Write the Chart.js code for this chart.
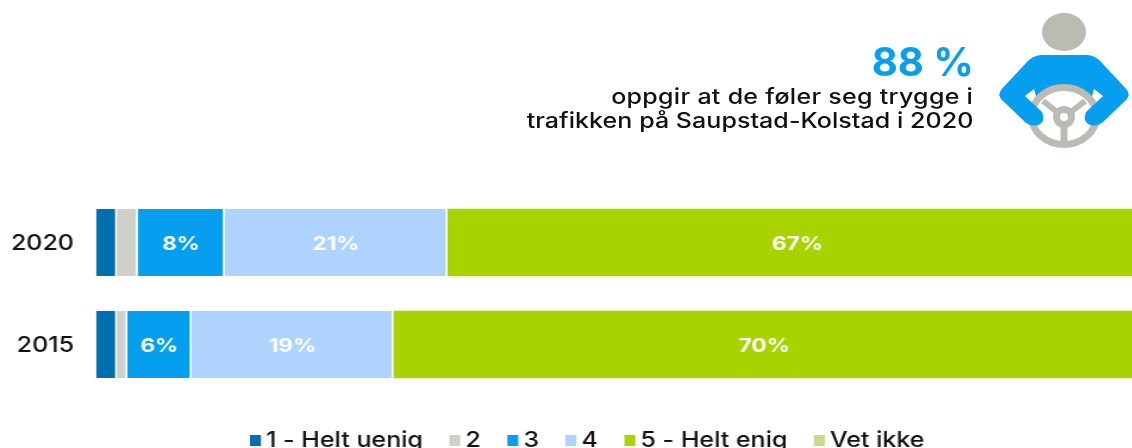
<!DOCTYPE html>
<html><head><meta charset="utf-8">
<style>
html,body{margin:0;padding:0;background:#fff;overflow:hidden}
#wrap{position:relative;width:1132px;height:448px;overflow:hidden}
#c{position:absolute;left:0;top:0;transform:scaleX(1.1903);transform-origin:0 0}
.t{position:absolute;right:159px;text-align:right;white-space:nowrap;font-family:Inter,sans-serif;color:#111;font-weight:500;font-size:21px;transform:scaleX(1.19);transform-origin:100% 0}
svg{position:absolute;left:0;top:0}
</style>
<script src="https://cdn.jsdelivr.net/npm/chart.js@4"></script>
</head><body><div id="wrap">
<canvas id="c" width="951" height="448"></canvas>
<div class="t" style="top:37px;right:158px;font-size:40px;font-weight:700;color:#069fef;transform:none">88 %</div>
<div class="t" style="top:84px;letter-spacing:.25px">oppgir at de føler seg trygge i</div>
<div class="t" style="top:108px;letter-spacing:.05px">trafikken på Saupstad-Kolstad i 2020</div>
<svg width="1132" height="448" viewBox="0 0 1132 448">
<ellipse cx="1064" cy="32" rx="22" ry="19" fill="#bbbbb3"/>
<path d="M1042 55H1087Q1095 55 1102 63L1126 89Q1131 95 1126 100L1103 96L1094 89L1091 100A32.5 28.5 0 0 0 1037 100L1034 89L1025 96L1002 100Q997 95 1002 89L1026 63Q1033 55 1042 55Z" fill="#069fef"/>
<g fill="none" stroke="#bbbbb3">
<ellipse cx="1064" cy="116" rx="32.5" ry="28.5" stroke-width="7"/>
<line x1="1064" y1="124" x2="1064" y2="145" stroke-width="7"/>
<line x1="1057" y1="112" x2="1043" y2="101" stroke-width="6"/>
<line x1="1071" y1="112" x2="1085" y2="101" stroke-width="6"/>
<circle cx="1064" cy="117" r="7.5" stroke-width="7"/>
</g>
<path d="M1103 96L1086 112Q1082 122 1090 125Q1097 127 1103 122L1126 100Q1131 95 1126 89L1112 74Z" fill="#069fef"/>
<path d="M1103 96L1086 112Q1082 122 1090 125Q1097 127 1103 122L1126 100Q1131 95 1126 89L1112 74Z" fill="#069fef" transform="translate(2128 0) scale(-1 1)"/>
</svg>
</div>
<script>
const categories = ["2020", "2015"];
const seriesNames = ["1 - Helt uenig", "2", "3", "4", "5 - Helt enig", "Vet ikke"];
const seriesColors = ["#006fae", "#d0cfc9", "#069fef", "#aed3ff", "#a8d300", "#c6db8a"];
const helt_uenig = [2.0, 2.0];
const to = [2.0, 1.0];
const tre = [8.4, 6.2];
const fire = [21.5, 19.5];
const helt_enig = [67.6, 71.6];
const vet_ikke = [0, 0];
const labels3 = ["8%", "6%"];
const labels4 = ["21%", "19%"];
const labels5 = ["67%", "70%"];
const seriesValues = [helt_uenig, to, tre, fire, helt_enig, vet_ikke];
const seriesLabels = [null, null, labels3, labels4, labels5, null];
const FONT = "Inter, sans-serif";

const barText = {
  id: "barText",
  afterDatasetsDraw(chart) {
    const ctx = chart.ctx;
    ctx.save();
    ctx.textAlign = "center";
    ctx.textBaseline = "middle";
    ctx.fillStyle = "#fff";
    ctx.font = "700 19px " + FONT;
    seriesLabels.forEach((lab, i) => {
      if (!lab) return;
      chart.getDatasetMeta(i).data.forEach((el, j) => {
        const p = el.getProps(["x", "base", "y"], true);
        ctx.fillText(lab[j], (p.x + p.base) / 2, p.y + 1.5);
      });
    });
    ctx.restore();
  }
};

const bottomLegend = {
  id: "bottomLegend",
  afterDraw(chart) {
    const ctx = chart.ctx;
    ctx.save();
    ctx.font = "500 21px " + FONT;
    ctx.textBaseline = "alphabetic";
    ctx.textAlign = "left";
    let x = 210;
    chart.data.datasets.forEach(ds => {
      ctx.fillStyle = ds.backgroundColor;
      ctx.fillRect(x, 435, 9.2, 11);
      ctx.fillStyle = "#111";
      ctx.fillText(ds.label, x + 13.5, 447);
      x += 13.5 + ctx.measureText(ds.label).width + 22.2;
    });
    ctx.restore();
  }
};

new Chart(document.getElementById("c"), {
  type: "bar",
  data: {
    labels: categories,
    datasets: seriesNames.map((n, i) => ({
      label: n,
      data: seriesValues[i],
      backgroundColor: seriesColors[i],
      borderColor: "#fff",
      borderWidth: { right: i < 4 ? 1.7 : 0 },
      borderSkipped: false,
      barThickness: 67
    }))
  },
  options: {
    indexAxis: "y",
    responsive: false,
    animation: false,
    layout: { padding: { top: 191.5, right: 0, bottom: 52.5, left: 0 } },
    scales: {
      x: { stacked: true, display: false, min: 0, max: 100 },
      y: {
        stacked: true,
        grid: { display: false },
        border: { display: false },
        ticks: { color: "#111", padding: 10.5, labelOffset: 1.5, font: { family: FONT, size: 21, weight: "500" } },
        afterFit(s) { s.width = 80.65; }
      }
    },
    plugins: {
      tooltip: { enabled: false },
      legend: { display: false }
    }
  },
  plugins: [barText, bottomLegend]
});
</script></body></html>
